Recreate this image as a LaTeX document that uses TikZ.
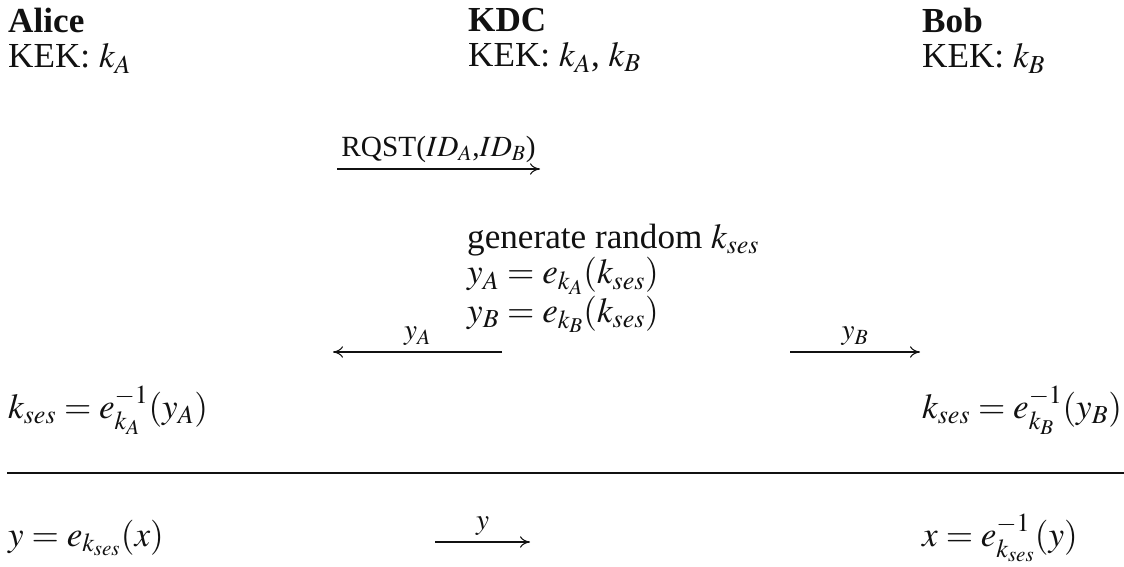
\documentclass[tikz,border=0pt]{standalone}
\usepackage{mathptmx}
\usepackage[no-math]{fontspec}
\setmainfont{Liberation Serif}
\usepackage{tikz}
\usetikzlibrary{positioning, arrows.meta}
\definecolor{protoInk}{HTML}{111111}

\tikzset{
  party/.style={anchor=base west, inner sep=0pt, font=\fontsize{30}{30}\selectfont, text=protoInk},
  block/.style={party, anchor=north west, align=left},
  msg/.style={-{To[length=3mm, width=3.4mm]}, line width=0.9pt, protoInk},
  msglabel/.style={midway, above=5pt, inner sep=0pt, font=\fontsize{25}{30}\selectfont, text=protoInk}
}

\begin{document}
\begin{tikzpicture}[x=0.03cm, y=-0.03cm]
    \useasboundingbox (0,0) rectangle (1124,567);
    % headers
    \node[block] (alice) at (8,8) {\textbf{Alice}\\KEK: $k_A$};
    \node[block] (kdc) at (468,8) {\textbf{KDC}\\KEK: $k_A$, $k_B$};
    \node[block] (bob) at (922,8) {\textbf{Bob}\\KEK: $k_B$};
    % request to the KDC
    \coordinate (rqstfrom) at (337,169);
    \coordinate (rqstto) at (540,169);
    \draw[msg] (rqstfrom) -- (rqstto)
      node[msglabel] {RQST($ID_A$,$ID_B$)};
    % KDC computes the session key
    \node[block] (gen) at (467,224)
      {generate random $k_{ses}$\\$y_A = e_{k_A}(k_{ses})$\\$y_B = e_{k_B}(k_{ses})$};
    % key distribution
    \coordinate (yAfrom) at (502,352);
    \coordinate (yAto) at (333,352);
    \draw[msg] (yAfrom) -- (yAto) node[msglabel] {$y_A$};
    \coordinate (yBfrom) at (790,352);
    \coordinate (yBto) at (920,352);
    \draw[msg] (yBfrom) -- (yBto) node[msglabel] {$y_B$};
    \node[party] (decA) at (8,418) {$k_{ses} = e^{-1}_{k_A}(y_A)$};
    \node[party] (decB) at (922,418) {$k_{ses} = e^{-1}_{k_B}(y_B)$};
    % separator
    \coordinate (sepL) at (7,473);
    \coordinate (sepR) at (1124,473);
    \draw[line width=1.2pt, protoInk] (sepL) -- (sepR);
    % session
    \node[party] (encx) at (8,546) {$y = e_{k_{ses}}(x)$};
    \coordinate (yfrom) at (435,542);
    \coordinate (yto) at (530,542);
    \draw[msg] (yfrom) -- (yto) node[msglabel] {$y$};
    \node[party] (decx) at (922,546) {$x = e^{-1}_{k_{ses}}(y)$};
\end{tikzpicture}
\end{document}
